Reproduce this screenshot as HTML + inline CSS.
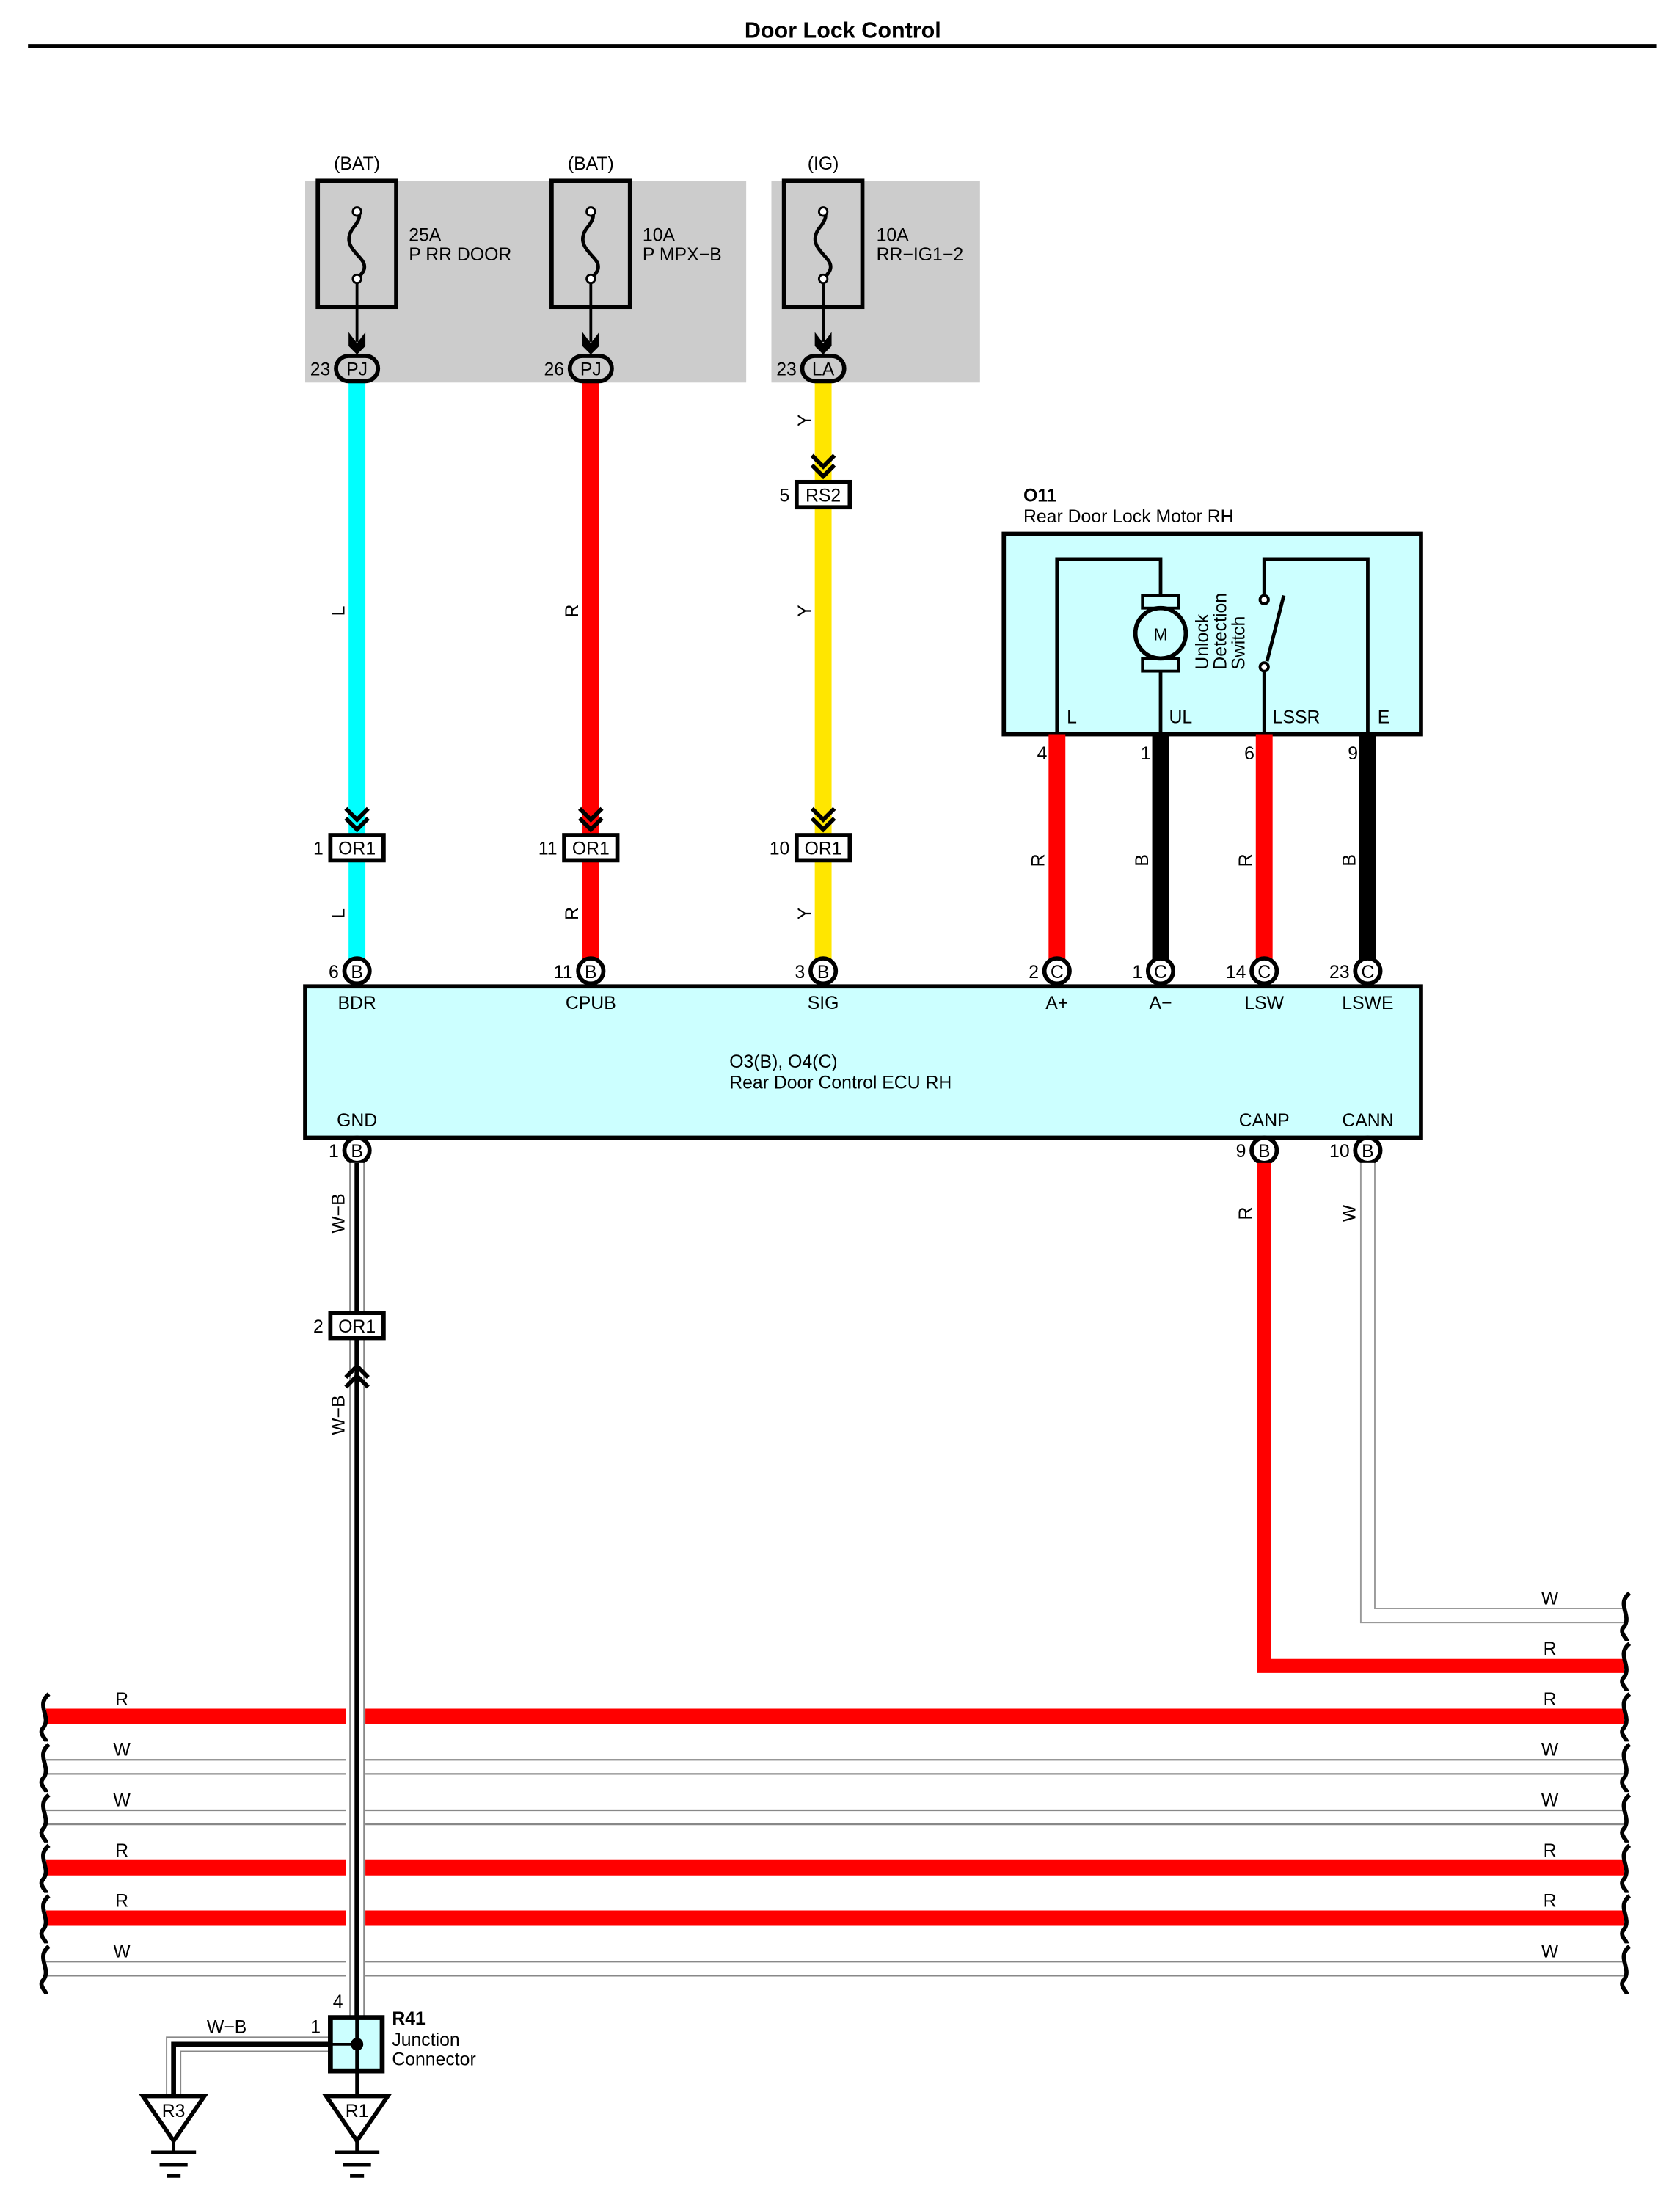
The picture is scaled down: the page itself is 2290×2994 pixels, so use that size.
<!DOCTYPE html>
<html><head><meta charset="utf-8"><style>
html,body{margin:0;padding:0;background:#fff}
svg{display:block}
text{font-family:"Liberation Sans",Arial,sans-serif;font-size:13px;fill:#000}
</style></head><body>
<svg width="2290" height="2994" viewBox="0 0 1200 1568" preserveAspectRatio="none" xmlns="http://www.w3.org/2000/svg">
<defs>
<g id="chev"><polyline points="-8,-16 0,-8 8,-16" fill="none" stroke="#000" stroke-width="3"/><polyline points="-8,-9 0,-1 8,-9" fill="none" stroke="#000" stroke-width="3"/></g>
<g id="fuse"><rect x="-28" y="0" width="56" height="90" fill="none" stroke="#000" stroke-width="3"/>
<path d="M0,22 C3,24 2,28 -3,34 C-10,44 -2,50 3,56 C8,62 4,66 0,70" fill="none" stroke="#000" stroke-width="2.5"/>
<circle cx="0" cy="22" r="3" fill="#fff" stroke="#000" stroke-width="1.5"/><circle cx="0" cy="70" r="3" fill="#fff" stroke="#000" stroke-width="1.5"/>
<line x1="0" y1="73" x2="0" y2="115" stroke="#000" stroke-width="2"/>
<path d="M-6,108 L0,116 L6,108 L6,118 L0,124 L-6,118Z" fill="#000"/></g>
<path id="wv" d="M4,-16 C-6,-8 6,0 0,8 C-4,12 2,16 2,18" fill="none" stroke="#000" stroke-width="3"/>
</defs>
<text x="602" y="27" text-anchor="middle" font-weight="bold" style="font-size:16px">Door Lock Control</text>
<line x1="20" y1="33" x2="1183" y2="33" stroke="#000" stroke-width="3"/>
<rect x="218" y="129" width="315" height="144" fill="#cccccc"/>
<rect x="551" y="129" width="149" height="144" fill="#cccccc"/>
<text x="255" y="121" text-anchor="middle">(BAT)</text>
<text x="422" y="121" text-anchor="middle">(BAT)</text>
<text x="588" y="121" text-anchor="middle">(IG)</text>
<use href="#fuse" x="255" y="129"/><use href="#fuse" x="422" y="129"/><use href="#fuse" x="588" y="129"/>
<text x="292" y="172">25A</text><text x="292" y="186">P RR DOOR</text>
<text x="459" y="172">10A</text><text x="459" y="186">P MPX−B</text>
<text x="626" y="172">10A</text><text x="626" y="186">RR−IG1−2</text>
<line x1="255" y1="272" x2="255" y2="690" stroke="#00ffff" stroke-width="12"/>
<line x1="422" y1="272" x2="422" y2="690" stroke="#ff0000" stroke-width="12"/>
<line x1="588" y1="272" x2="588" y2="690" stroke="#ffe600" stroke-width="12"/>
<g stroke="#000" stroke-width="3" fill="#ccc">
<rect x="240" y="254" width="30" height="18" rx="9"/><rect x="407" y="254" width="30" height="18" rx="9"/><rect x="573" y="254" width="30" height="18" rx="9"/></g>
<text x="255" y="268" text-anchor="middle">PJ</text><text x="422" y="268" text-anchor="middle">PJ</text><text x="588" y="268" text-anchor="middle">LA</text>
<text x="236" y="268" text-anchor="end">23</text><text x="403" y="268" text-anchor="end">26</text><text x="569" y="268" text-anchor="end">23</text>
<use href="#chev" x="588" y="341"/>
<rect x="569" y="344" width="38" height="18" fill="#fff" stroke="#000" stroke-width="3"/><text x="588" y="358" text-anchor="middle">RS2</text><text x="564" y="358" text-anchor="end">5</text>
<g><use href="#chev" x="255" y="593"/><use href="#chev" x="422" y="593"/><use href="#chev" x="588" y="593"/></g>
<g fill="#fff" stroke="#000" stroke-width="3"><rect x="236" y="596" width="38" height="18"/><rect x="403" y="596" width="38" height="18"/><rect x="569" y="596" width="38" height="18"/></g>
<text x="255" y="610" text-anchor="middle">OR1</text><text x="422" y="610" text-anchor="middle">OR1</text><text x="588" y="610" text-anchor="middle">OR1</text>
<text x="231" y="610" text-anchor="end">1</text><text x="398" y="610" text-anchor="end">11</text><text x="564" y="610" text-anchor="end">10</text>
<g font-size="12">
<text transform="translate(246,436) rotate(-90)" text-anchor="middle">L</text>
<text transform="translate(246,652) rotate(-90)" text-anchor="middle">L</text>
<text transform="translate(413,436) rotate(-90)" text-anchor="middle">R</text>
<text transform="translate(413,652) rotate(-90)" text-anchor="middle">R</text>
<text transform="translate(579,300) rotate(-90)" text-anchor="middle">Y</text>
<text transform="translate(579,436) rotate(-90)" text-anchor="middle">Y</text>
<text transform="translate(579,652) rotate(-90)" text-anchor="middle">Y</text>
<text transform="translate(746,614) rotate(-90)" text-anchor="middle">R</text>
<text transform="translate(820,614) rotate(-90)" text-anchor="middle">B</text>
<text transform="translate(894,614) rotate(-90)" text-anchor="middle">R</text>
<text transform="translate(968,614) rotate(-90)" text-anchor="middle">B</text>
<text transform="translate(246,866) rotate(-90)" text-anchor="middle">W−B</text>
<text transform="translate(246,1010) rotate(-90)" text-anchor="middle">W−B</text>
<text transform="translate(894,866) rotate(-90)" text-anchor="middle">R</text>
<text transform="translate(968,866) rotate(-90)" text-anchor="middle">W</text>
</g>
<text x="731" y="358" font-weight="bold">O11</text>
<text x="731" y="373">Rear Door Lock Motor RH</text>
<rect x="717" y="381" width="298" height="143" fill="#ccffff" stroke="#000" stroke-width="3"/>
<g stroke="#000" stroke-width="2.5" fill="none">
<polyline points="755,524 755,399 829,399 829,425"/>
<line x1="829" y1="480" x2="829" y2="524"/>
<polyline points="903,524 903,476"/>
<line x1="905" y1="472" x2="917" y2="425"/>
<polyline points="903,431 903,399 977,399 977,524"/>
</g>
<rect x="816" y="425" width="26" height="9" fill="#ccffff" stroke="#000" stroke-width="2"/>
<rect x="816" y="470" width="26" height="9" fill="#ccffff" stroke="#000" stroke-width="2"/>
<circle cx="829" cy="452" r="18" fill="#ccffff" stroke="#000" stroke-width="3"/>
<text x="829" y="457" text-anchor="middle" style="font-size:12px">M</text>
<circle cx="903" cy="428" r="3" fill="#fff" stroke="#000" stroke-width="2"/>
<circle cx="903" cy="476" r="3" fill="#fff" stroke="#000" stroke-width="2"/>
<text transform="translate(863,478) rotate(-90)">Unlock</text>
<text transform="translate(876,478) rotate(-90)">Detection</text>
<text transform="translate(889,478) rotate(-90)">Switch</text>
<text x="762" y="516">L</text><text x="835" y="516">UL</text><text x="909" y="516">LSSR</text><text x="984" y="516">E</text>
<line x1="755" y1="524" x2="755" y2="690" stroke="#ff0000" stroke-width="12"/>
<line x1="829" y1="524" x2="829" y2="690" stroke="#000" stroke-width="12"/>
<line x1="903" y1="524" x2="903" y2="690" stroke="#ff0000" stroke-width="12"/>
<line x1="977" y1="524" x2="977" y2="690" stroke="#000" stroke-width="12"/>
<text x="748" y="542" text-anchor="end">4</text><text x="822" y="542" text-anchor="end">1</text><text x="896" y="542" text-anchor="end">6</text><text x="970" y="542" text-anchor="end">9</text>
<rect x="218" y="704" width="797" height="108" fill="#ccffff" stroke="#000" stroke-width="3"/>
<g fill="#fff" stroke="#000" stroke-width="3">
<circle cx="255" cy="693" r="9"/><circle cx="422" cy="693" r="9"/><circle cx="588" cy="693" r="9"/><circle cx="755" cy="693" r="9"/><circle cx="829" cy="693" r="9"/><circle cx="903" cy="693" r="9"/><circle cx="977" cy="693" r="9"/>
<circle cx="255" cy="821" r="9"/><circle cx="903" cy="821" r="9"/><circle cx="977" cy="821" r="9"/></g>
<g text-anchor="middle" style="font-size:12px">
<text x="255" y="698">B</text><text x="422" y="698">B</text><text x="588" y="698">B</text><text x="755" y="698">C</text><text x="829" y="698">C</text><text x="903" y="698">C</text><text x="977" y="698">C</text>
<text x="255" y="826">B</text><text x="903" y="826">B</text><text x="977" y="826">B</text></g>
<g text-anchor="end"><text x="242" y="698">6</text><text x="409" y="698">11</text><text x="575" y="698">3</text><text x="742" y="698">2</text><text x="816" y="698">1</text><text x="890" y="698">14</text><text x="964" y="698">23</text>
<text x="242" y="826">1</text><text x="890" y="826">9</text><text x="964" y="826">10</text></g>
<g text-anchor="middle"><text x="255" y="720">BDR</text><text x="422" y="720">CPUB</text><text x="588" y="720">SIG</text><text x="755" y="720">A+</text><text x="829" y="720">A−</text><text x="903" y="720">LSW</text><text x="977" y="720">LSWE</text>
<text x="255" y="804">GND</text><text x="903" y="804">CANP</text><text x="977" y="804">CANN</text></g>
<text x="521" y="762">O3(B), O4(C)</text><text x="521" y="777">Rear Door Control ECU RH</text>
<polyline points="903,830 903,1189 1160,1189" fill="none" stroke="#ff0000" stroke-width="10"/>
<polyline points="977,830 977,1153 1160,1153" fill="none" stroke="#999" stroke-width="11"/>
<polyline points="977,830 977,1153 1160,1153" fill="none" stroke="#fff" stroke-width="9"/>
<text x="1107" y="1145" text-anchor="middle">W</text><text x="1107" y="1181" text-anchor="middle">R</text>
<g>
<line x1="33" y1="1225" x2="1160" y2="1225" stroke="#ff0000" stroke-width="11"/>
<line x1="33" y1="1333" x2="1160" y2="1333" stroke="#ff0000" stroke-width="11"/>
<line x1="33" y1="1369" x2="1160" y2="1369" stroke="#ff0000" stroke-width="11"/>
<g stroke="#888" stroke-width="1.2">
<line x1="33" y1="1256" x2="1160" y2="1256"/><line x1="33" y1="1266" x2="1160" y2="1266"/>
<line x1="33" y1="1292" x2="1160" y2="1292"/><line x1="33" y1="1302" x2="1160" y2="1302"/>
<line x1="33" y1="1400" x2="1160" y2="1400"/><line x1="33" y1="1410" x2="1160" y2="1410"/></g>
<rect x="247" y="1210" width="14" height="210" fill="#fff"/>
</g>
<g text-anchor="middle">
<text x="87" y="1217">R</text><text x="87" y="1253">W</text><text x="87" y="1289">W</text><text x="87" y="1325">R</text><text x="87" y="1361">R</text><text x="87" y="1397">W</text>
<text x="1107" y="1217">R</text><text x="1107" y="1253">W</text><text x="1107" y="1289">W</text><text x="1107" y="1325">R</text><text x="1107" y="1361">R</text><text x="1107" y="1397">W</text></g>
<g>
<use href="#wv" x="31" y="1225"/><use href="#wv" x="31" y="1261"/><use href="#wv" x="31" y="1297"/><use href="#wv" x="31" y="1333"/><use href="#wv" x="31" y="1369"/><use href="#wv" x="31" y="1405"/>
<use href="#wv" x="1160" y="1153"/><use href="#wv" x="1160" y="1189"/>
<use href="#wv" x="1160" y="1225"/><use href="#wv" x="1160" y="1261"/><use href="#wv" x="1160" y="1297"/><use href="#wv" x="1160" y="1333"/><use href="#wv" x="1160" y="1369"/><use href="#wv" x="1160" y="1405"/>
</g>
<line x1="255" y1="830" x2="255" y2="1440" stroke="#888" stroke-width="11"/>
<line x1="255" y1="830" x2="255" y2="1440" stroke="#fff" stroke-width="9"/>
<line x1="255" y1="830" x2="255" y2="1440" stroke="#000" stroke-width="3.5"/>
<rect x="236" y="937" width="38" height="18" fill="#fff" stroke="#000" stroke-width="3"/>
<text x="255" y="951" text-anchor="middle">OR1</text><text x="231" y="951" text-anchor="end">2</text>
<g transform="translate(255,958) scale(1,-1)"><use href="#chev" y="-16"/></g>
<text x="245" y="1433" text-anchor="end">4</text>
<text x="229" y="1451" text-anchor="end">1</text>
<text x="162" y="1451" text-anchor="middle">W−B</text>
<polyline points="236,1459 124,1459 124,1496" fill="none" stroke="#888" stroke-width="11"/>
<polyline points="236,1459 124,1459 124,1496" fill="none" stroke="#fff" stroke-width="9"/>
<polyline points="236,1459 124,1459 124,1496" fill="none" stroke="#000" stroke-width="3.5"/>
<rect x="236" y="1440" width="37" height="38" fill="#ccffff" stroke="#000" stroke-width="3.5"/>
<line x1="255" y1="1440" x2="255" y2="1496" stroke="#000" stroke-width="2.5"/>
<line x1="236" y1="1459" x2="255" y2="1459" stroke="#000" stroke-width="2"/>
<circle cx="255" cy="1459" r="4.5" fill="#000"/>
<text x="280" y="1445" font-weight="bold">R41</text><text x="280" y="1460">Junction</text><text x="280" y="1474">Connector</text>
<g fill="#fff" stroke="#000" stroke-width="3">
<polygon points="102,1496 146,1496 124,1528"/><polygon points="233,1496 277,1496 255,1528"/></g>
<text x="124" y="1511" text-anchor="middle">R3</text><text x="255" y="1511" text-anchor="middle">R1</text>
<g stroke="#000" stroke-width="2.5">
<line x1="124" y1="1528" x2="124" y2="1536"/><line x1="108" y1="1536" x2="140" y2="1536"/><line x1="114" y1="1545" x2="134" y2="1545"/><line x1="119" y1="1553" x2="129" y2="1553"/>
<line x1="255" y1="1528" x2="255" y2="1536"/><line x1="239" y1="1536" x2="271" y2="1536"/><line x1="245" y1="1545" x2="265" y2="1545"/><line x1="250" y1="1553" x2="260" y2="1553"/></g>
</svg>
</body></html>
